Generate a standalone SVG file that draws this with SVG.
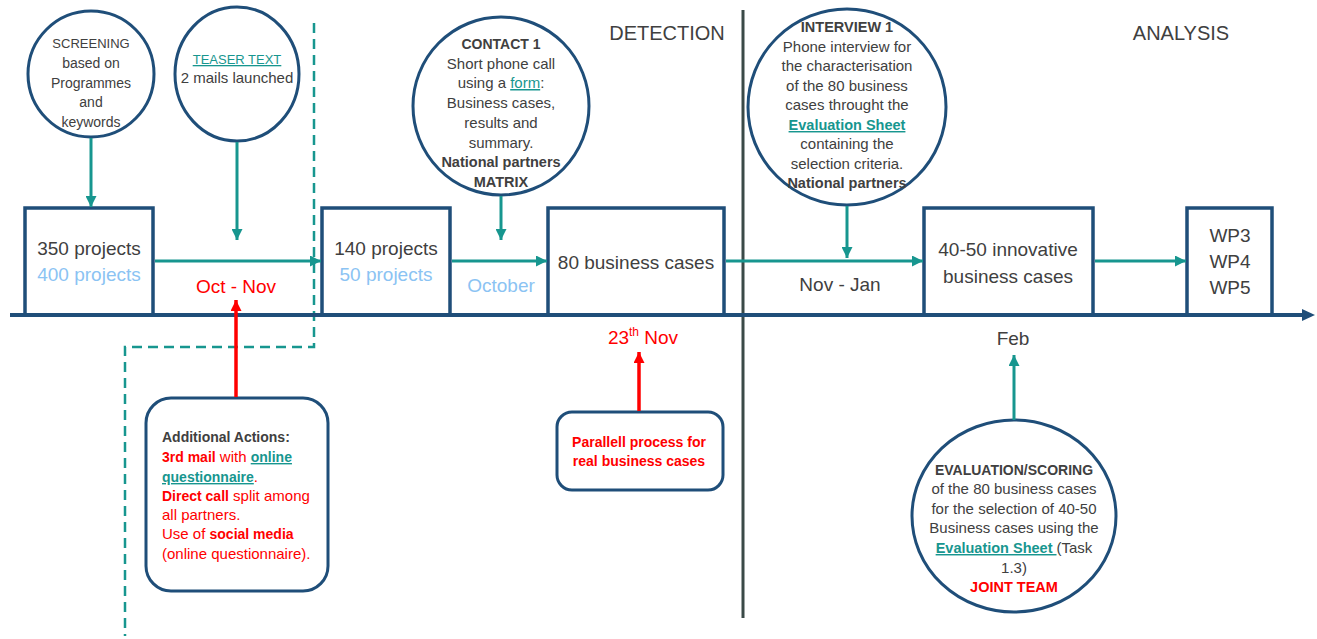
<svg xmlns="http://www.w3.org/2000/svg" width="1317" height="639" viewBox="0 0 1317 639">
<defs>
<marker id="ah" viewBox="0 0 10 10" markerUnits="userSpaceOnUse" markerWidth="11" markerHeight="11" refX="10" refY="5" orient="auto"><path d="M0,0 L10,5 L0,10 z" fill="#17968F"/></marker>
<marker id="ahr" viewBox="0 0 10 10" markerUnits="userSpaceOnUse" markerWidth="11" markerHeight="11" refX="10" refY="5" orient="auto"><path d="M0,0 L10,5 L0,10 z" fill="#FF0000"/></marker>
</defs>
<style>
text{font-family:"Liberation Sans",Arial,sans-serif;fill:#404040}
.c{text-anchor:middle}
.s15{font-size:15px}
.s14{font-size:14px}
.b{font-weight:bold}
.big{font-size:19px}
.lb{fill:#8BC3F3}
.red{fill:#FF0000}
.lnk{fill:#17968F;text-decoration:underline}
.box{fill:#fff;stroke:#1F4E79;stroke-width:3.5}
.circ{fill:#fff;stroke:#1F4E79;stroke-width:3}
.ta{stroke:#17968F;stroke-width:3;fill:none;marker-end:url(#ah)}
.ra{stroke:#FF0000;stroke-width:3.5;fill:none;marker-end:url(#ahr)}
</style>
<rect width="1317" height="639" fill="#fff"/>

<g id="dashed-frame">
<path d="M314,23 L314,347 L125,347 L125,636" fill="none" stroke="#17968F" stroke-width="2.5" stroke-dasharray="10,6"/>
</g>

<g id="separator">
<line x1="743" y1="10" x2="743" y2="618" stroke="#3B4A48" stroke-width="3"/>
</g>

<g id="phase-labels">
<text x="667" y="40" class="c" font-size="20">DETECTION</text>
<text x="1181" y="40" class="c" font-size="20">ANALYSIS</text>
</g>

<g id="box-350">
<rect class="box" x="25" y="208" width="128" height="107"/>
<text x="89" y="255" class="c big">350 projects</text>
<text x="89" y="281" class="c big lb">400 projects</text>
</g>
<g id="box-140">
<rect class="box" x="322" y="208" width="128" height="107"/>
<text x="386" y="255" class="c big">140 projects</text>
<text x="386" y="281" class="c big lb">50 projects</text>
</g>
<g id="box-80">
<rect class="box" x="548" y="208" width="176" height="107"/>
<text x="636" y="269" class="c big">80 business cases</text>
</g>
<g id="box-4050">
<rect class="box" x="924" y="208" width="169" height="107"/>
<text x="1008" y="256" class="c big">40-50 innovative</text>
<text x="1008" y="283" class="c big">business cases</text>
</g>
<g id="box-wp">
<rect class="box" x="1187" y="208" width="85" height="107"/>
<text x="1230" y="242" class="c big">WP3</text>
<text x="1230" y="268" class="c big">WP4</text>
<text x="1230" y="294" class="c big">WP5</text>
</g>

<g id="timeline">
<line x1="10" y1="315" x2="1303" y2="315" stroke="#1F4E79" stroke-width="4"/>
<polygon points="1302,309 1315,315 1302,321" fill="#1F4E79"/>
</g>

<g id="circle-screening">
<ellipse class="circ" cx="91" cy="74" rx="63" ry="63"/>
<text class="c" font-size="13" x="91" y="48">SCREENING</text>
<text class="c s14" x="91" y="68">based on</text>
<text class="c s14" x="91" y="88">Programmes</text>
<text class="c s14" x="91" y="107">and</text>
<text class="c s14" x="91" y="127">keywords</text>
</g>
<g id="circle-teaser">
<ellipse class="circ" cx="237" cy="74" rx="62" ry="67"/>
<text class="c lnk" font-size="13" x="237" y="64">TEASER TEXT</text>
<text class="c s15" x="237" y="83">2 mails launched</text>
</g>
<g id="circle-contact">
<ellipse class="circ" cx="501" cy="106" rx="88" ry="89"/>
<text class="c b" font-size="14" x="501" y="49">CONTACT 1</text>
<text class="c s15" x="501" y="69">Short phone call</text>
<text class="c s15" x="501" y="88">using a <tspan class="lnk">form</tspan>:</text>
<text class="c s15" x="501" y="108">Business cases,</text>
<text class="c s15" x="501" y="128">results and</text>
<text class="c s15" x="501" y="148">summary.</text>
<text class="c b" font-size="14.5" x="501" y="167">National partners</text>
<text class="c b" font-size="14.5" x="501" y="187">MATRIX</text>
</g>
<g id="circle-interview">
<ellipse class="circ" cx="847" cy="107" rx="99" ry="98"/>
<text class="c b" font-size="14.5" x="847" y="32">INTERVIEW 1</text>
<text class="c s15" x="847" y="52">Phone interview for</text>
<text class="c s15" x="847" y="71">the characterisation</text>
<text class="c s15" x="847" y="91">of the 80 business</text>
<text class="c s15" x="847" y="110">cases throught the</text>
<text class="c b lnk" font-size="14.5" x="847" y="130">Evaluation Sheet</text>
<text class="c s15" x="847" y="149">containing the</text>
<text class="c s15" x="847" y="169">selection criteria.</text>
<text class="c b" font-size="14.5" x="847" y="188">National partners</text>
</g>
<g id="circle-evaluation">
<ellipse class="circ" cx="1014" cy="516" rx="102" ry="96"/>
<text class="c b" font-size="14" x="1014" y="475">EVALUATION/SCORING</text>
<text class="c s15" x="1014" y="494">of the 80 business cases</text>
<text class="c s15" x="1014" y="514">for the selection of 40-50</text>
<text class="c s15" x="1014" y="533">Business cases using the</text>
<text class="c s15" x="1014" y="553"><tspan class="lnk b" font-size="14.5">Evaluation Sheet </tspan>(Task</text>
<text class="c s15" x="1014" y="573">1.3)</text>
<text class="c b red" font-size="14.5" x="1014" y="592">JOINT TEAM</text>
</g>

<g id="box-additional">
<rect x="146" y="398" width="182" height="193" rx="25" ry="25" fill="#fff" stroke="#1F4E79" stroke-width="3"/>
<text class="b" font-size="14" x="162" y="442">Additional Actions:</text>
<text class="s15 red" x="162" y="462"><tspan class="b red" font-size="14">3rd mail</tspan> with <tspan class="lnk b" font-size="14">online</tspan></text>
<text class="s15 red" x="162" y="482"><tspan class="lnk b" font-size="14">questionnaire</tspan>.</text>
<text class="s15 red" x="162" y="501"><tspan class="b red" font-size="14">Direct call</tspan> split among</text>
<text class="s15 red" x="162" y="520">all partners.</text>
<text class="s15 red" x="162" y="539">Use of <tspan class="b red" font-size="14">social media</tspan></text>
<text class="s15 red" x="162" y="559">(online questionnaire).</text>
</g>
<g id="box-parallel">
<rect x="557" y="412" width="166" height="78" rx="15" ry="15" fill="#fff" stroke="#1F4E79" stroke-width="3"/>
<text class="c b red" font-size="14" x="639" y="447">Parallell process for</text>
<text class="c b red" font-size="14" x="639" y="466">real business cases</text>
</g>

<g id="time-labels">
<text class="c big red" x="236" y="293">Oct - Nov</text>
<text class="c big lb" x="501" y="292">October</text>
<text class="c big" x="840" y="291">Nov - Jan</text>
<text class="c big red" x="643" y="344">23<tspan font-size="12" dy="-8">th</tspan><tspan dy="8"> Nov</tspan></text>
<text class="c big" x="1013" y="345">Feb</text>
</g>

<g id="connectors">
<line class="ta" x1="91" y1="138" x2="91" y2="207"/>
<line class="ta" x1="237" y1="142" x2="237" y2="240"/>
<line class="ta" x1="501" y1="196" x2="501" y2="240"/>
<line class="ta" x1="847" y1="206" x2="847" y2="258"/>
<line class="ta" x1="155" y1="261" x2="321" y2="261"/>
<line class="ta" x1="452" y1="261" x2="547" y2="261"/>
<line class="ta" x1="726" y1="261" x2="923" y2="261"/>
<line class="ta" x1="1095" y1="261" x2="1186" y2="261"/>
<line class="ta" x1="1014" y1="420" x2="1014" y2="355"/>
<line class="ra" x1="236" y1="397" x2="236" y2="300"/>
<line class="ra" x1="639" y1="411" x2="639" y2="352"/>
</g>
</svg>
